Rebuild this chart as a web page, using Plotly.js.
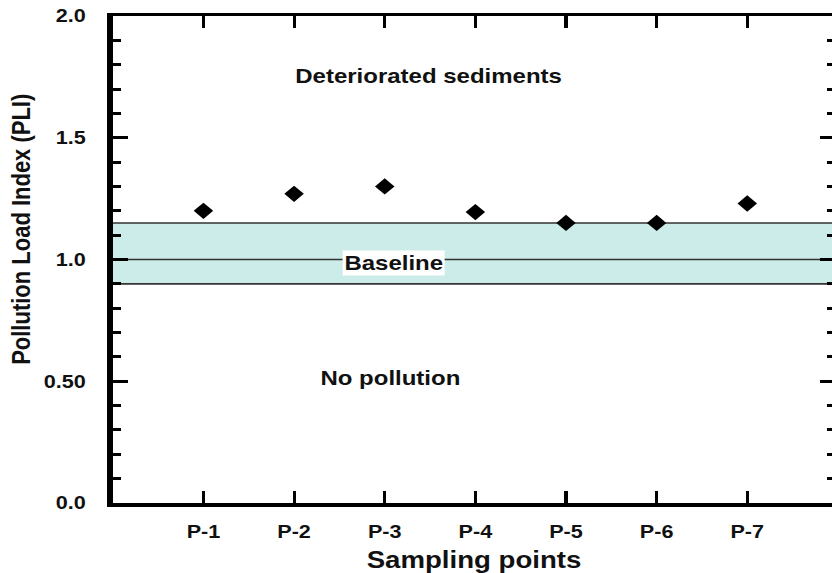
<!DOCTYPE html>
<html>
<head>
<meta charset="utf-8">
<script src="https://cdn.plot.ly/plotly-3.0.1.min.js"></script>
<style>
  html, body { margin: 0; padding: 0; background: #fff; overflow: hidden; }
  #chart { width: 700px; height: 573px; transform: scaleX(1.2); transform-origin: 0 0; }
</style>
</head>
<body>
<div id="chart"></div>
<script>
// ---- data ----
const samplingPoints = ['P-1', 'P-2', 'P-3', 'P-4', 'P-5', 'P-6', 'P-7'];
const pliValues = [1.20, 1.27, 1.30, 1.195, 1.15, 1.15, 1.23];
const yTickValues = [0, 0.5, 1.0, 1.5, 2.0];
const yTickLabels = ['0.0', '0.50', '1.0', '1.5', '2.0'];
const bandRange = [0.9, 1.15];       // shaded baseline band
const baselineValue = [1.0];
const zoneLabels = ['Deteriorated sediments', 'Baseline', 'No pollution'];
const zoneLabelX = [2.48, 2.10, 2.07];
const zoneLabelY = [1.754, 0.986, 0.513];
const yTitleText = 'Pollution Load Index (PLI)';
const xTitleText = 'Sampling points';

const FONT = 'Liberation Sans, Arial, sans-serif';
const INK = '#111111';

const trace = {
  x: samplingPoints,
  y: pliValues,
  type: 'scatter',
  mode: 'markers',
  marker: { symbol: 'diamond', size: 12.5, color: '#000000' },
  showlegend: false,
  hoverinfo: 'x+y'
};

const shapes = [
  { type: 'rect', xref: 'paper', yref: 'y', x0: 0, x1: 1, y0: bandRange[0], y1: bandRange[1],
    fillcolor: '#ccece9', line: { width: 0 }, layer: 'below' },
  { type: 'line', xref: 'paper', yref: 'y', x0: 0, x1: 1, y0: bandRange[0], y1: bandRange[0],
    line: { color: '#333333', width: 1.6 }, layer: 'below' },
  { type: 'line', xref: 'paper', yref: 'y', x0: 0, x1: 1, y0: bandRange[1], y1: bandRange[1],
    line: { color: '#333333', width: 1.6 }, layer: 'below' },
  { type: 'line', xref: 'paper', yref: 'y', x0: 0, x1: 1, y0: baselineValue[0], y1: baselineValue[0],
    line: { color: '#333333', width: 1.4 }, layer: 'below' }
];

const annotations = zoneLabels.map((t, i) => ({
  x: zoneLabelX[i], y: zoneLabelY[i], xref: 'x', yref: 'y',
  text: t, showarrow: false,
  font: { family: FONT, size: 20, color: INK, weight: 'bold' },
  bgcolor: t === 'Baseline' ? '#ffffff' : 'rgba(0,0,0,0)',
  borderpad: 1
}));
annotations.push({
  xref: 'paper', yref: 'paper', x: -0.126, y: 0.561,
  xanchor: 'center', yanchor: 'middle', textangle: -90,
  text: yTitleText, showarrow: false,
  font: { family: FONT, size: 22, color: INK, weight: 'bold' }
});

const layout = {
  width: 700,
  height: 573,
  margin: { l: 94.2, r: 4.2, t: 16, b: 70, pad: 0 },
  paper_bgcolor: '#ffffff',
  plot_bgcolor: '#ffffff',
  font: { family: FONT, color: INK, weight: 'bold' },
  xaxis: {
    type: 'category',
    range: [-1, 6.97],
    tickvals: samplingPoints,
    ticktext: samplingPoints,
    ticks: 'inside', ticklen: 12, tickwidth: 2.6, tickcolor: '#000',
    showline: true, linewidth: 3.5, linecolor: '#000', mirror: 'ticks',
    showgrid: false, zeroline: false,
    tickfont: { family: FONT, size: 18, color: INK, weight: 'bold' },
    ticklabelstandoff: 10,
    title: { text: xTitleText, font: { family: FONT, size: 23, color: INK, weight: 'bold' }, standoff: 13 }
  },
  yaxis: {
    range: [0, 2],
    tickvals: yTickValues,
    ticktext: yTickLabels,
    ticks: 'inside', ticklen: 13, tickwidth: 3, tickcolor: '#000',
    minor: { dtick: 0.1, ticks: 'inside', ticklen: 7, tickwidth: 3, tickcolor: '#000', showgrid: false },
    showline: true, linewidth: 5, linecolor: '#000', mirror: 'ticks',
    showgrid: false, zeroline: false,
    tickfont: { family: FONT, size: 18, color: INK, weight: 'bold' },
    ticklabelstandoff: 14
  },
  shapes: shapes,
  annotations: annotations
};

Plotly.newPlot('chart', [trace], layout, { displayModeBar: false, staticPlot: true });
</script>
</body>
</html>
